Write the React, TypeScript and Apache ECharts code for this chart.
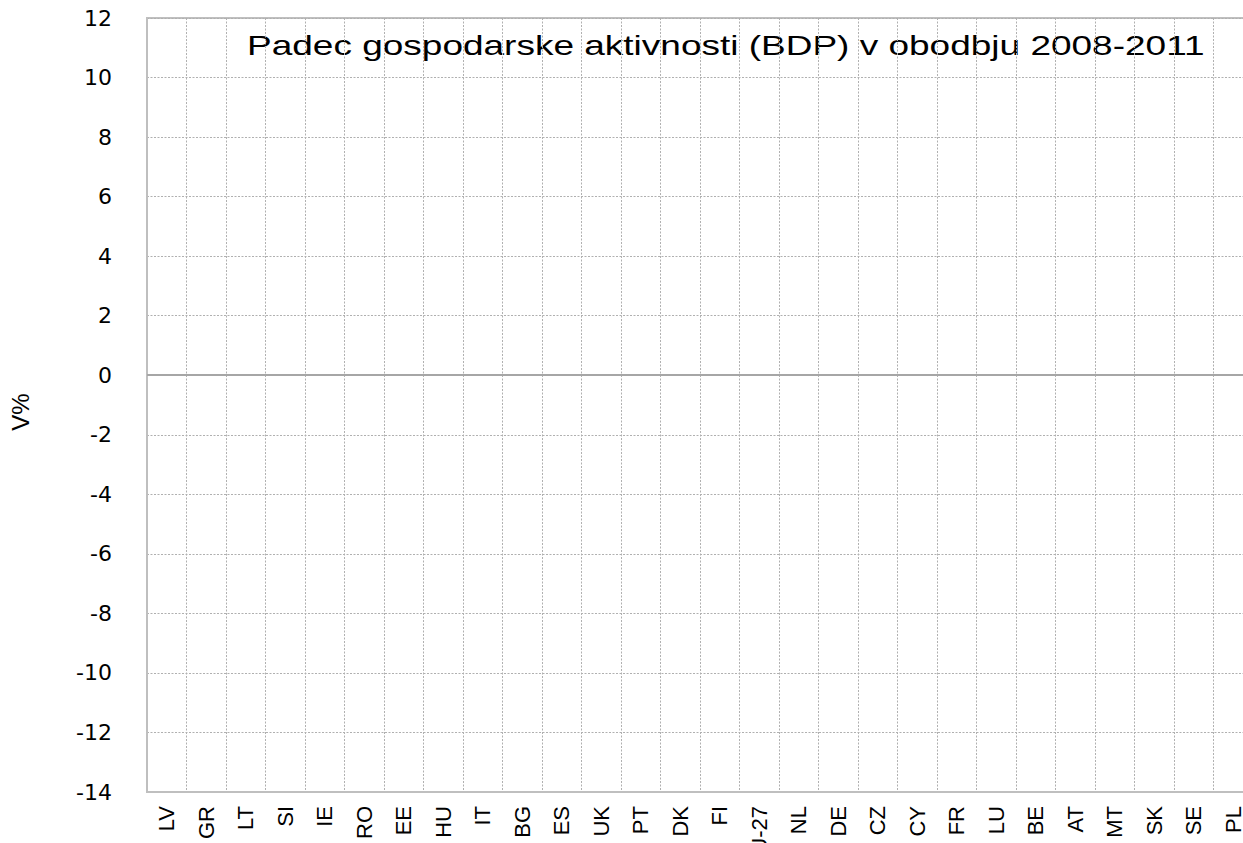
import React, { useEffect, useRef } from "react";
import * as echarts from "echarts";

const categories = [
  "LV", "GR", "LT", "SI", "IE", "RO", "EE", "HU", "IT", "BG", "ES", "UK", "PT", "DK",
  "FI", "EU-27", "NL", "DE", "CZ", "CY", "FR", "LU", "BE", "AT", "MT", "SK", "SE", "PL",
];
// The reference shows no bars: values are empty
const values: (number | null)[] = categories.map(() => null);
const yMin = -14;
const yMax = 12;
const yStep = 2;
const titleText = "Padec gospodarske aktivnosti (BDP) v obodbju 2008-2011";
const yName = "V%";

export default function App() {
  const ref = useRef<HTMLDivElement>(null);
  useEffect(() => {
    if (!ref.current) return;
    const chart = echarts.init(ref.current, null, { renderer: "svg" });
    const grid = "#bfbfbf";
    chart.setOption({
      animation: false,
      backgroundColor: "#ffffff",
      textStyle: { fontFamily: "'Liberation Sans', Arial, sans-serif" },
      grid: {
        left: 147,
        top: 18,
        bottom: 51,
        right: -10,
        containLabel: false,
        outerBoundsMode: "none",
        show: true,
        borderColor: grid,
        borderWidth: 2,
        backgroundColor: "transparent",
      },
      graphic: [
        {
          type: "text",
          x: 247,
          y: 45,
          scaleX: 1.322,
          style: {
            text: titleText,
            fontSize: 28,
            fontFamily: "'Liberation Sans', Arial, sans-serif",
            fill: "#000",
            textAlign: "left",
            textVerticalAlign: "middle",
          },
        },
      ],
      xAxis: {
        type: "category",
        data: categories,
        boundaryGap: true,
        axisLine: { show: true, onZero: false, lineStyle: { color: grid, width: 2 } },
        axisTick: { show: false },
        axisLabel: {
          rotate: 90,
          interval: 0,
          margin: 14,
          fontSize: 22,
          color: "#000",
          fontFamily: "'Liberation Sans', Arial, sans-serif",
        },
        splitLine: {
          show: true,
          interval: 0,
          lineStyle: { color: "#b0b0b0", width: 1, type: [2, 1.5] },
        },
      },
      yAxis: {
        type: "value",
        min: yMin,
        max: yMax,
        interval: yStep,
        name: yName,
        nameLocation: "middle",
        nameGap: 115,
        nameRotate: 90,
        nameTextStyle: {
          fontSize: 24,
          color: "#000",
          fontFamily: "'Liberation Sans', Arial, sans-serif",
          padding: [0, 14, 0, 0],
        },
        axisLine: { show: true, lineStyle: { color: grid, width: 2 } },
        axisTick: { show: false },
        axisLabel: {
          margin: 35,
          fontSize: 22,
          color: "#000",
          fontFamily: "'DejaVu Sans', sans-serif",
        },
        splitLine: {
          show: true,
          lineStyle: { color: "#b0b0b0", width: 1, type: [2, 1.5] },
        },
      },
      series: [
        {
          type: "bar",
          data: values,
          itemStyle: { color: "#4f81bd" },
          markLine: {
            silent: true,
            symbol: "none",
            label: { show: false },
            lineStyle: { color: "#a6a6a6", width: 2, type: "solid" },
            data: [{ yAxis: 0 }],
          },
        },
      ],
    });
    return () => chart.dispose();
  }, []);
  return (
    <div
      ref={ref}
      style={{ position: "fixed", left: 0, top: 0, width: 1243, height: 843, background: "#fff" }}
    />
  );
}
